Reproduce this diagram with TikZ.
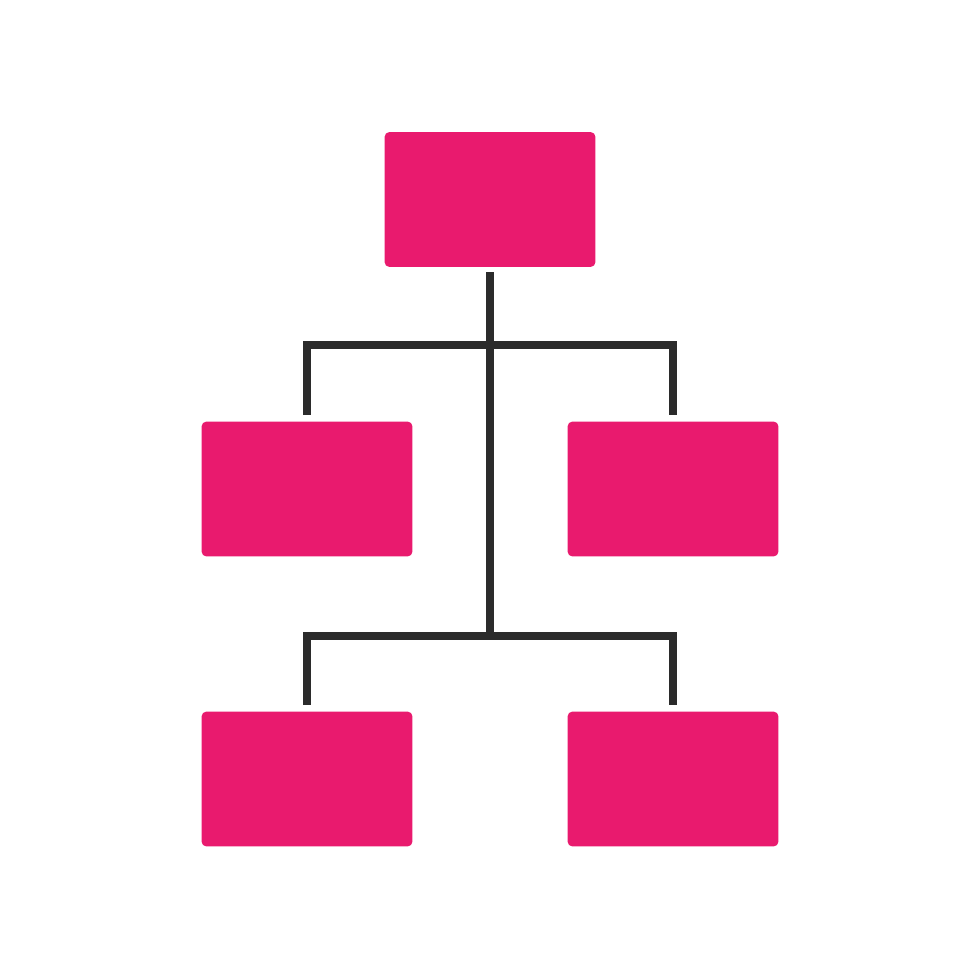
\documentclass[tikz,border=0pt]{standalone}
\definecolor{boxpink}{HTML}{E91A6E}
\definecolor{linkgray}{HTML}{2B2B2B}
\begin{document}
\begin{tikzpicture}[x=0.02cm,y=-0.02cm,
  unit/.style={fill=boxpink,rounded corners=0.1cm,minimum width=4.22cm,minimum height=2.7cm,inner sep=0pt},
  link/.style={draw=linkgray,line width=0.16cm}]
\useasboundingbox (0,0) rectangle (980,980);
\node[unit] (top) at (490,199.5) {};
\node[unit] (ml) at (307,489) {};
\node[unit] (mr) at (673,489) {};
\node[unit] (bl) at (307,779) {};
\node[unit] (br) at (673,779) {};
\coordinate (j1) at (490,345);
\coordinate (j2) at (490,639);
\coordinate (k2) at (490,635.5);
\draw[link,shorten <=0.1cm] (top.south) -- (j2);
\draw[link,shorten <=0.12cm,shorten >=0.12cm] (ml.north) |- (j1) -| (mr.north);
\draw[link,shorten <=0.12cm,shorten >=0.12cm] (bl.north) |- (k2) -| (br.north);
\end{tikzpicture}
\end{document}
